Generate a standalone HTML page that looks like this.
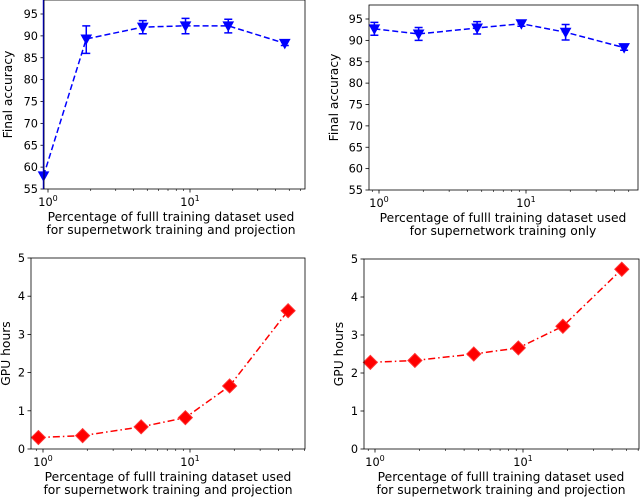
<!DOCTYPE html>
<html><head><meta charset="utf-8"><style>
body{margin:0;background:#fff}
svg{display:block;font-family:"DejaVu Sans","Liberation Sans",sans-serif}
</style></head><body>
<svg id="fig" width="640" height="498" viewBox="0 0 640 498"></svg>
<script>
const xValues=[0.93,1.86,4.65,9.3,18.6,46.5];
const accProj=[58,89.3,92,92.3,92.3,88.3];
const accProjLo=[10,86,90.5,90.5,90.7,87.8];
const accProjHi=[106,92.3,93.5,94,93.8,88.8];
const accOnly=[92.7,91.5,92.9,93.9,91.9,88.3];
const accOnlyLo=[91.2,90,91.5,93.3,90.1,87.7];
const accOnlyHi=[94.2,93,94.4,94.5,93.7,88.9];
const gpuLeft=[0.3,0.35,0.58,0.82,1.65,3.62];
const gpuRight=[2.28,2.33,2.5,2.66,3.23,4.73];
const accTicks=[55,60,65,70,75,80,85,90,95];
const gpuTicks=[0,1,2,3,4,5];

const NS="http://www.w3.org/2000/svg";
const svg=document.getElementById('fig');
function mk(tag,attrs,parent){const e=document.createElementNS(NS,tag);for(const k in attrs)e.setAttribute(k,attrs[k]);(parent||svg).appendChild(e);return e;}

function panel(p){
  const g=mk('g',{});
  
  
  const xs=v=>p.x0+p.dec*Math.log10(v);
  const ys=v=>p.b+(v-p.ymin)*(p.yRef-p.b)/(p.yRefVal-p.ymin);
  const clipId=p.name+'-clip';
  const cp=mk('clipPath',{id:clipId},g);
  mk('rect',{x:p.l-20,y:p.t,width:p.r-p.l+40,height:p.b-p.t},cp);
  p.yt.forEach(v=>{const y=ys(v);
    mk('line',{x1:p.l-3.5,x2:p.l,y1:y,y2:y,stroke:'#000','stroke-width':0.8},g);
    const t=mk('text',{x:p.l-6,y:y+4,'text-anchor':'end','font-size':11.3,fill:'#000'},g);t.textContent=v;
    
    
  });
  for(let d=-1;d<=1;d++)for(let m=1;m<10;m++){const v=m*Math.pow(10,d);const x=xs(v);
    if(x<p.l-0.5||x>p.r+0.5)continue;
    mk('line',{x1:x,x2:x,y1:p.b,y2:p.b+(m==1?3.5:2),stroke:'#000','stroke-width':m==1?0.8:0.6},g);
    if(m==1){const t=mk('text',{x:x,y:p.b+17,'text-anchor':'middle','font-size':11.3,fill:'#000'},g);
      t.innerHTML='10<tspan dy="-5" font-size="8">'+d+'</tspan>';
      
      }
  }
  const dg=mk('g',{'clip-path':'url(#'+clipId+')'},g);
  const pts=xValues.map((v,i)=>[xs(v),ys(p.vals[i])]);
  const line=mk('polyline',{points:pts.map(q=>q.join(',')).join(' '),fill:'none',stroke:p.color,'stroke-width':1.5,'stroke-dasharray':p.dash},dg);
  
  
  if(p.lo){xValues.forEach((v,i)=>{const x=xs(v),y1=ys(p.lo[i]),y2=ys(p.hi[i]);
    const e=mk('path',{d:`M${x},${y1}V${y2}M${x-4},${y1}H${x+4}M${x-4},${y2}H${x+4}`,stroke:p.color,'stroke-width':1.5,fill:'none'},dg);
    
    
  });}
  pts.forEach(([x,y])=>{let m;
    if(p.marker=='tri')m=mk('path',{d:`M${x-5},${y-4}L${x+5},${y-4}L${x},${y+5}Z`,fill:p.color,stroke:p.color,'stroke-width':1},g);
    else m=mk('path',{d:`M${x},${y-7}L${x+7},${y}L${x},${y+7}L${x-7},${y}Z`,fill:p.color,stroke:'#ff3030','stroke-width':1},g);
    
    
  });
  mk('rect',{x:p.l,y:p.t,width:p.r-p.l,height:p.b-p.t,fill:'none',stroke:'#000','stroke-width':0.8},g);
  const yl=mk('text',{transform:`translate(${p.ylx},${(p.t+p.b)/2}) rotate(-90)`,'text-anchor':'middle','font-size':12.3,fill:'#000'},g);
  yl.textContent=p.ylabel;
  
  
  p.xlabel.forEach((s,i)=>{const t=mk('text',{x:p.xlc,y:p.b+32+i*13,'text-anchor':'middle','font-size':12.3,fill:'#000'},g);t.textContent=s;
    
    });
}
const lab1=['Percentage of fulll training dataset used','for supernetwork training and projection'];
panel({name:'accuracy-proj-panel',l:44,r:305,t:0,b:189,x0:48,dec:142,ymin:55,yRefVal:95,yRef:14,yt:accTicks,
  vals:accProj,lo:accProjLo,hi:accProjHi,color:'#0000ff',dash:'6,3',marker:'tri',ylabel:'Final accuracy',ylx:12,xlabel:lab1,xlc:171});
panel({name:'accuracy-only-panel',l:369,r:638,t:5,b:190,x0:379,dec:147,ymin:55,yRefVal:95,yRef:19,yt:accTicks,
  vals:accOnly,lo:accOnlyLo,hi:accOnlyHi,color:'#0000ff',dash:'6,3',marker:'tri',ylabel:'Final accuracy',ylx:338,
  xlabel:['Percentage of fulll training dataset used','for supernetwork training only'],xlc:503});
panel({name:'gpu-left-panel',l:31,r:305,t:258,b:449,x0:43,dec:147,ymin:0,yRefVal:5,yRef:258,yt:gpuTicks,
  vals:gpuLeft,color:'#ff0000',dash:'7,3,1.5,3',marker:'dia',ylabel:'GPU hours',ylx:10,xlabel:lab1,xlc:168});
panel({name:'gpu-right-panel',l:364,r:639,t:259,b:449,x0:375,dec:148,ymin:0,yRefVal:5,yRef:259,yt:gpuTicks,
  vals:gpuRight,color:'#ff0000',dash:'7,3,1.5,3',marker:'dia',ylabel:'GPU hours',ylx:343,xlabel:lab1,xlc:501});
</script>
</body></html>
